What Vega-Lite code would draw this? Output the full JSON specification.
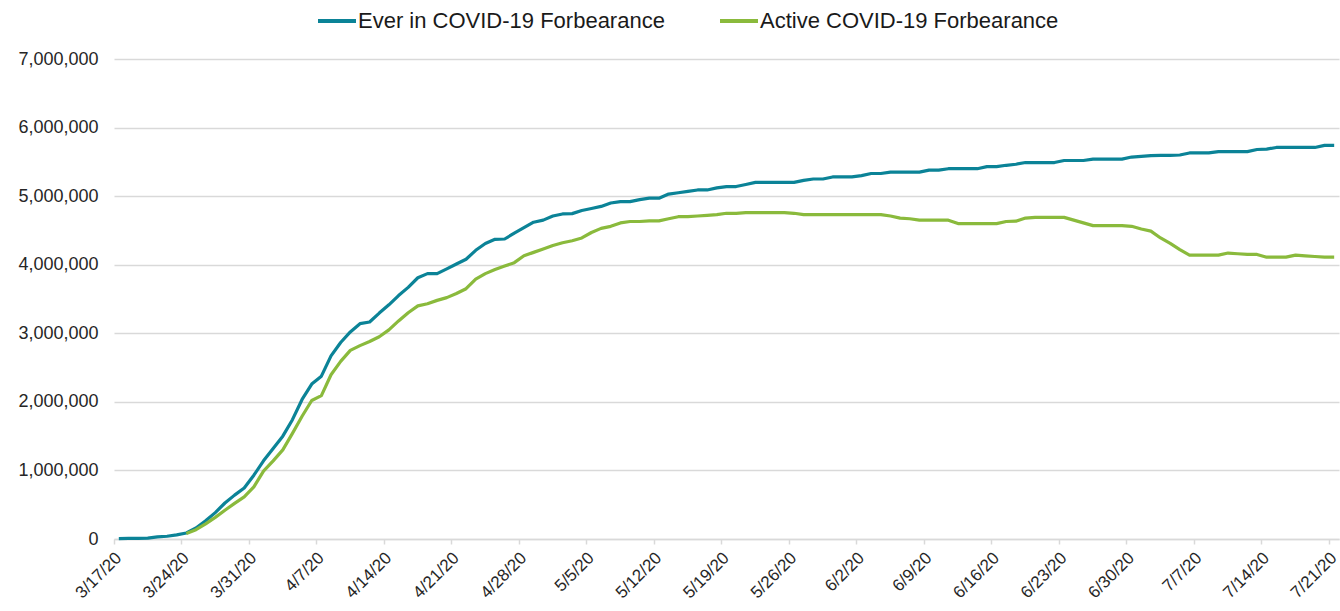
{
  "$schema": "https://vega.github.io/schema/vega-lite/v6.json",
  "autosize": {"type": "none"},
  "padding": {"left": 114, "top": 59, "right": 1, "bottom": 72},
  "width": 1225,
  "height": 480,
  "background": "#ffffff",
  "config": {
    "view": {"stroke": null},
    "font": "Liberation Sans",
    "axis": {"labelFont": "Liberation Sans", "labelColor": "#262626"},
    "legend": {"labelFont": "Liberation Sans", "labelColor": "#1a1a1a"}
  },
  "data": {
    "values": [
      {"date":"2020-03-17","Ever":5000},
      {"date":"2020-03-18","Ever":8000},
      {"date":"2020-03-19","Ever":10000},
      {"date":"2020-03-20","Ever":12000},
      {"date":"2020-03-21","Ever":30000},
      {"date":"2020-03-22","Ever":40000},
      {"date":"2020-03-23","Ever":60000},
      {"date":"2020-03-24","Ever":88000,"Active":80000},
      {"date":"2020-03-25","Ever":160000,"Active":135000},
      {"date":"2020-03-26","Ever":265000,"Active":220000},
      {"date":"2020-03-27","Ever":385000,"Active":315000},
      {"date":"2020-03-28","Ever":525000,"Active":420000},
      {"date":"2020-03-29","Ever":640000,"Active":520000},
      {"date":"2020-03-30","Ever":745000,"Active":615000},
      {"date":"2020-03-31","Ever":930000,"Active":760000},
      {"date":"2020-04-01","Ever":1140000,"Active":990000},
      {"date":"2020-04-02","Ever":1320000,"Active":1140000},
      {"date":"2020-04-03","Ever":1500000,"Active":1300000},
      {"date":"2020-04-04","Ever":1740000,"Active":1540000},
      {"date":"2020-04-05","Ever":2035000,"Active":1790000},
      {"date":"2020-04-06","Ever":2260000,"Active":2020000},
      {"date":"2020-04-07","Ever":2375000,"Active":2090000},
      {"date":"2020-04-08","Ever":2670000,"Active":2395000},
      {"date":"2020-04-09","Ever":2865000,"Active":2590000},
      {"date":"2020-04-10","Ever":3020000,"Active":2750000},
      {"date":"2020-04-11","Ever":3140000,"Active":2820000},
      {"date":"2020-04-12","Ever":3165000,"Active":2880000},
      {"date":"2020-04-13","Ever":3295000,"Active":2950000},
      {"date":"2020-04-14","Ever":3415000,"Active":3050000},
      {"date":"2020-04-15","Ever":3550000,"Active":3180000},
      {"date":"2020-04-16","Ever":3670000,"Active":3300000},
      {"date":"2020-04-17","Ever":3810000,"Active":3400000},
      {"date":"2020-04-18","Ever":3870000,"Active":3430000},
      {"date":"2020-04-19","Ever":3870000,"Active":3480000},
      {"date":"2020-04-20","Ever":3940000,"Active":3520000},
      {"date":"2020-04-21","Ever":4010000,"Active":3580000},
      {"date":"2020-04-22","Ever":4080000,"Active":3650000},
      {"date":"2020-04-23","Ever":4210000,"Active":3790000},
      {"date":"2020-04-24","Ever":4310000,"Active":3870000},
      {"date":"2020-04-25","Ever":4370000,"Active":3930000},
      {"date":"2020-04-26","Ever":4375000,"Active":3980000},
      {"date":"2020-04-27","Ever":4460000,"Active":4030000},
      {"date":"2020-04-28","Ever":4540000,"Active":4130000},
      {"date":"2020-04-29","Ever":4620000,"Active":4180000},
      {"date":"2020-04-30","Ever":4650000,"Active":4230000},
      {"date":"2020-05-01","Ever":4710000,"Active":4280000},
      {"date":"2020-05-02","Ever":4740000,"Active":4320000},
      {"date":"2020-05-03","Ever":4745000,"Active":4350000},
      {"date":"2020-05-04","Ever":4790000,"Active":4390000},
      {"date":"2020-05-05","Ever":4820000,"Active":4470000},
      {"date":"2020-05-06","Ever":4850000,"Active":4530000},
      {"date":"2020-05-07","Ever":4900000,"Active":4560000},
      {"date":"2020-05-08","Ever":4920000,"Active":4610000},
      {"date":"2020-05-09","Ever":4920000,"Active":4630000},
      {"date":"2020-05-10","Ever":4950000,"Active":4630000},
      {"date":"2020-05-11","Ever":4970000,"Active":4640000},
      {"date":"2020-05-12","Ever":4970000,"Active":4640000},
      {"date":"2020-05-13","Ever":5030000,"Active":4670000},
      {"date":"2020-05-14","Ever":5050000,"Active":4700000},
      {"date":"2020-05-15","Ever":5070000,"Active":4700000},
      {"date":"2020-05-16","Ever":5090000,"Active":4710000},
      {"date":"2020-05-17","Ever":5090000,"Active":4720000},
      {"date":"2020-05-18","Ever":5120000,"Active":4730000},
      {"date":"2020-05-19","Ever":5140000,"Active":4750000},
      {"date":"2020-05-20","Ever":5140000,"Active":4750000},
      {"date":"2020-05-21","Ever":5170000,"Active":4760000},
      {"date":"2020-05-22","Ever":5200000,"Active":4760000},
      {"date":"2020-05-23","Ever":5200000,"Active":4760000},
      {"date":"2020-05-24","Ever":5200000,"Active":4760000},
      {"date":"2020-05-25","Ever":5200000,"Active":4760000},
      {"date":"2020-05-26","Ever":5200000,"Active":4750000},
      {"date":"2020-05-27","Ever":5230000,"Active":4730000},
      {"date":"2020-05-28","Ever":5250000,"Active":4730000},
      {"date":"2020-05-29","Ever":5250000,"Active":4730000},
      {"date":"2020-05-30","Ever":5280000,"Active":4730000},
      {"date":"2020-05-31","Ever":5280000,"Active":4730000},
      {"date":"2020-06-01","Ever":5280000,"Active":4730000},
      {"date":"2020-06-02","Ever":5300000,"Active":4730000},
      {"date":"2020-06-03","Ever":5330000,"Active":4730000},
      {"date":"2020-06-04","Ever":5330000,"Active":4730000},
      {"date":"2020-06-05","Ever":5350000,"Active":4710000},
      {"date":"2020-06-06","Ever":5350000,"Active":4680000},
      {"date":"2020-06-07","Ever":5350000,"Active":4670000},
      {"date":"2020-06-08","Ever":5350000,"Active":4650000},
      {"date":"2020-06-09","Ever":5380000,"Active":4650000},
      {"date":"2020-06-10","Ever":5380000,"Active":4650000},
      {"date":"2020-06-11","Ever":5400000,"Active":4650000},
      {"date":"2020-06-12","Ever":5400000,"Active":4600000},
      {"date":"2020-06-13","Ever":5400000,"Active":4600000},
      {"date":"2020-06-14","Ever":5400000,"Active":4600000},
      {"date":"2020-06-15","Ever":5430000,"Active":4600000},
      {"date":"2020-06-16","Ever":5430000,"Active":4600000},
      {"date":"2020-06-17","Ever":5450000,"Active":4630000},
      {"date":"2020-06-18","Ever":5465000,"Active":4635000},
      {"date":"2020-06-19","Ever":5490000,"Active":4680000},
      {"date":"2020-06-20","Ever":5490000,"Active":4690000},
      {"date":"2020-06-21","Ever":5490000,"Active":4690000},
      {"date":"2020-06-22","Ever":5490000,"Active":4690000},
      {"date":"2020-06-23","Ever":5520000,"Active":4690000},
      {"date":"2020-06-24","Ever":5520000,"Active":4650000},
      {"date":"2020-06-25","Ever":5520000,"Active":4610000},
      {"date":"2020-06-26","Ever":5540000,"Active":4570000},
      {"date":"2020-06-27","Ever":5540000,"Active":4570000},
      {"date":"2020-06-28","Ever":5540000,"Active":4570000},
      {"date":"2020-06-29","Ever":5540000,"Active":4570000},
      {"date":"2020-06-30","Ever":5570000,"Active":4560000},
      {"date":"2020-07-01","Ever":5580000,"Active":4520000},
      {"date":"2020-07-02","Ever":5590000,"Active":4490000},
      {"date":"2020-07-03","Ever":5595000,"Active":4390000},
      {"date":"2020-07-04","Ever":5595000,"Active":4310000},
      {"date":"2020-07-05","Ever":5600000,"Active":4220000},
      {"date":"2020-07-06","Ever":5630000,"Active":4140000},
      {"date":"2020-07-07","Ever":5630000,"Active":4140000},
      {"date":"2020-07-08","Ever":5630000,"Active":4140000},
      {"date":"2020-07-09","Ever":5650000,"Active":4140000},
      {"date":"2020-07-10","Ever":5650000,"Active":4170000},
      {"date":"2020-07-11","Ever":5650000,"Active":4160000},
      {"date":"2020-07-12","Ever":5650000,"Active":4150000},
      {"date":"2020-07-13","Ever":5680000,"Active":4150000},
      {"date":"2020-07-14","Ever":5685000,"Active":4110000},
      {"date":"2020-07-15","Ever":5710000,"Active":4110000},
      {"date":"2020-07-16","Ever":5710000,"Active":4110000},
      {"date":"2020-07-17","Ever":5710000,"Active":4140000},
      {"date":"2020-07-18","Ever":5710000,"Active":4130000},
      {"date":"2020-07-19","Ever":5710000,"Active":4120000},
      {"date":"2020-07-20","Ever":5740000,"Active":4110000},
      {"date":"2020-07-21","Ever":5740000,"Active":4110000}
    ]
  },
  "transform": [
    {"fold": ["Ever", "Active"], "as": ["key", "value"]},
    {"filter": "isValid(datum.value)"}
  ],
  "mark": {"type": "line", "strokeWidth": 3.2, "strokeJoin": "round", "strokeCap": "butt"},
  "encoding": {
    "x": {
      "field": "date",
      "type": "ordinal",
      "bandPosition": 0.5,
      "scale": {"type": "band", "paddingInner": 0, "paddingOuter": 0},
      "axis": {
        "title": null,
        "bandPosition": 0,
        "values": ["2020-03-17","2020-03-24","2020-03-31","2020-04-07","2020-04-14","2020-04-21","2020-04-28","2020-05-05","2020-05-12","2020-05-19","2020-05-26","2020-06-02","2020-06-09","2020-06-16","2020-06-23","2020-06-30","2020-07-07","2020-07-14","2020-07-21"],
        "labelExpr": "parseInt(slice(datum.value,5,7)) + '/' + parseInt(slice(datum.value,8,10)) + '/20'",
        "labelAngle": -45,
        "labelAlign": "right",
        "labelBaseline": "middle",
        "labelFontSize": 17,
        "labelPadding": 11,
        "domainColor": "#d9d9d9",
        "domainWidth": 1.5,
        "tickColor": "#d9d9d9",
        "tickWidth": 1.5,
        "tickSize": 5,
        "grid": false,
        "labelOverlap": false,
        "labelBound": false
      }
    },
    "y": {
      "field": "value",
      "type": "quantitative",
      "scale": {"domain": [0, 7000000], "nice": false},
      "axis": {
        "title": null,
        "values": [0,1000000,2000000,3000000,4000000,5000000,6000000,7000000],
        "format": ",d",
        "labelFontSize": 18,
        "labelPadding": 16,
        "ticks": false,
        "domain": false,
        "grid": true,
        "gridColor": "#d9d9d9",
        "gridWidth": 1.5
      }
    },
    "color": {
      "field": "key",
      "type": "nominal",
      "scale": {"domain": ["Ever", "Active"], "range": ["#0b8397", "#8aba3c"]},
      "legend": {
        "title": null,
        "orient": "none",
        "direction": "horizontal",
        "legendX": 202,
        "legendY": -59,
        "labelExpr": "datum.value == 'Ever' ? 'Ever in COVID-19 Forbearance' : 'Active COVID-19 Forbearance'",
        "labelFontSize": 22,
        "labelLimit": 500,
        "symbolType": "stroke",
        "symbolSize": 1444,
        "symbolStrokeWidth": 4,
        "labelOffset": 0,
        "columnPadding": 47
      }
    }
  }
}
